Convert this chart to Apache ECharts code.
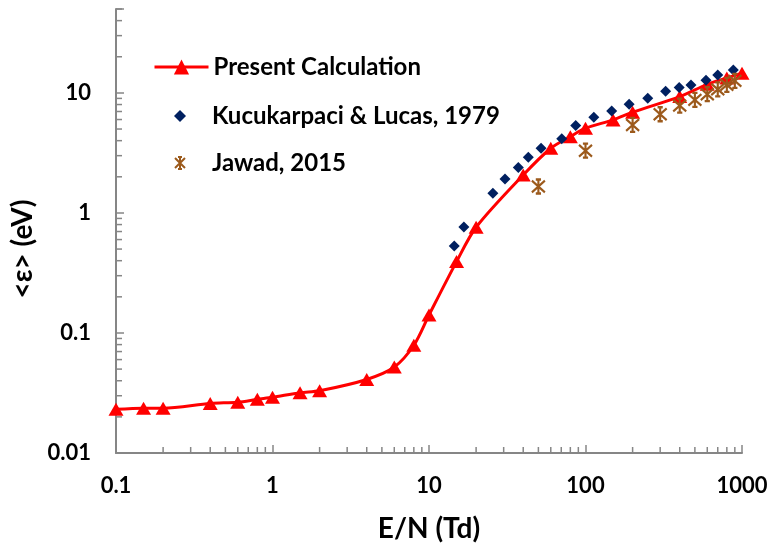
<!DOCTYPE html>
<html>
<head>
<meta charset="utf-8">
<script src="https://cdn.jsdelivr.net/npm/echarts@6/dist/echarts.min.js"></script>
<style>
html,body{margin:0;padding:0;background:#fff;}
#chart{width:774px;height:551px;}
</style>
</head>
<body>
<div id="chart"></div>
<script>
// ---- data ----
var presentX = [0.1, 0.15, 0.2, 0.4, 0.6, 0.8, 1, 1.5, 2, 4, 6, 8, 10, 15, 20, 40, 60, 80, 100, 150, 200, 400, 600, 800, 1000];
var presentY = [0.0231, 0.0236, 0.0236, 0.0259, 0.0265, 0.028, 0.0291, 0.0318, 0.033, 0.041, 0.052, 0.079, 0.141, 0.393, 0.76, 2.07, 3.46, 4.32, 5.08, 5.96, 6.91, 9.32, 11.8, 13.3, 14.6];

var kucX = [14.5, 16.7, 25.6, 30.6, 37.2, 43.1, 52, 70.5, 86.6, 113, 147, 190, 250, 325, 397, 472, 589, 700, 880];
var kucY = [0.531, 0.764, 1.46, 1.92, 2.39, 2.91, 3.46, 4.14, 5.36, 6.27, 7.08, 8.05, 9.03, 10.3, 11.07, 11.66, 12.76, 14.1, 15.5];

var jawX = [50, 100, 200, 300, 400, 500, 600, 700, 800, 900];
var jawY = [1.66, 3.30, 5.41, 6.64, 7.84, 8.75, 9.75, 10.7, 11.66, 12.6];

var xTickLabels = ['0.1', '1', '10', '100', '1000'];
var yTickLabels = ['0.01', '0.1', '1', '10'];

var seriesNames = ['Present Calculation', 'Kucukarpaci & Lucas, 1979', 'Jawad, 2015'];
var xTitle = 'E/N (Td)';
var yTitle = '<ε> (eV)';

// ---- helpers ----
function zip(a, b) { return a.map(function (v, i) { return [v, b[i]]; }); }
var X_MIN = 0.1, X_MAX = 1000, Y_MIN = 0.01, Y_MAX = 50;

// minor tick positions (axis decoration: 2..9 x each decade)
var minorTicks = [];
[0.1, 1, 10, 100].forEach(function (d) {
  for (var m = 2; m <= 9; m++) minorTicks.push([d * m, Y_MIN, 0]);
});
[0.01, 0.1, 1, 10].forEach(function (d) {
  for (var m = 2; m <= 9; m++) { if (d * m <= Y_MAX + 1e-9) minorTicks.push([X_MIN, d * m, 1]); }
});

function labelFor(labels, base, value) {
  var l = Math.log10(value);
  var r = Math.round(l);
  if (Math.abs(l - r) > 1e-6) return '';
  var idx = r - base;
  return labels[idx] !== undefined ? labels[idx] : '';
}

var FONT = 'Lato';
var AXIS_COLOR = '#868686';
var RED = '#FF0000';
var NAVY = '#002060';
var BROWN = '#9C5A1C';
var STAR = 'path://M0,1L10,11M10,1L0,11M5,0L5,12M3,0L7,0M3,12L7,12';

var legendText = { fontFamily: FONT, fontSize: 24, fontWeight: 'bold', color: '#000', lineHeight: 24 };

var chart = echarts.init(document.getElementById('chart'), null, { renderer: 'canvas' });
chart.setOption({
  animation: false,
  backgroundColor: '#ffffff',
  textStyle: { fontFamily: FONT },
  grid: { left: 116, right: 32, top: 9, bottom: 98, containLabel: false },
  legend: [
    {
      orient: 'vertical',
      left: 148,
      top: 50,
      itemWidth: 54,
      itemHeight: 19,
      data: [seriesNames[0]],
      lineStyle: { width: 3 },
      textStyle: legendText
    },
    {
      orient: 'vertical',
      left: 169,
      top: 99,
      itemWidth: 12,
      itemHeight: 12,
      itemGap: 23,
      data: [seriesNames[1], seriesNames[2]],
      textStyle: Object.assign({}, legendText, { padding: [0, 0, 0, 21] })
    }
  ],
  xAxis: {
    type: 'log',
    logBase: 10,
    min: X_MIN,
    max: X_MAX,
    name: xTitle,
    nameLocation: 'middle',
    nameGap: 62,
    nameTextStyle: { fontFamily: FONT, fontSize: 28, fontWeight: 'bold', color: '#000' },
    axisLine: { show: true, lineStyle: { color: AXIS_COLOR, width: 2 } },
    axisTick: { show: true, inside: true, length: 8, lineStyle: { color: AXIS_COLOR, width: 1.5 } },
    axisLabel: {
      margin: 22,
      fontFamily: FONT, fontSize: 22, fontWeight: 'bold', color: '#000',
      formatter: function (v) { return labelFor(xTickLabels, -1, v); }
    },
    splitLine: { show: false },
    minorTick: { show: false }
  },
  yAxis: {
    type: 'log',
    logBase: 10,
    min: Y_MIN,
    max: Y_MAX,
    name: yTitle,
    nameLocation: 'middle',
    nameGap: 77,
    nameTextStyle: { fontFamily: FONT, fontSize: 28, fontWeight: 'bold', color: '#000', padding: [0, 36, 0, 0] },
    axisLine: { show: true, lineStyle: { color: AXIS_COLOR, width: 2 } },
    axisTick: { show: true, inside: true, length: 8, lineStyle: { color: AXIS_COLOR, width: 1.5 } },
    axisLabel: {
      margin: 25,
      fontFamily: FONT, fontSize: 22, fontWeight: 'bold', color: '#000',
      formatter: function (v) { return labelFor(yTickLabels, -2, v); }
    },
    splitLine: { show: false },
    minorTick: { show: false }
  },
  series: [
    {
      name: 'minorTicks',
      type: 'custom',
      silent: true,
      clip: false,
      z: 1,
      data: minorTicks,
      renderItem: function (params, api) {
        var p = api.coord([api.value(0), api.value(1)]);
        var isY = api.value(2) === 1;
        return {
          type: 'line',
          shape: isY ? { x1: p[0], y1: p[1], x2: p[0] + 6, y2: p[1] } : { x1: p[0], y1: p[1], x2: p[0], y2: p[1] - 6 },
          style: { stroke: AXIS_COLOR, lineWidth: 1.5 }
        };
      }
    },
    {
      name: seriesNames[0],
      type: 'line',
      data: zip(presentX, presentY),
      smooth: 0.3,
      symbol: 'triangle',
      symbolSize: [15, 13],
      itemStyle: { color: RED },
      lineStyle: { color: RED, width: 3 },
      z: 3
    },
    {
      name: seriesNames[1],
      type: 'scatter',
      data: zip(kucX, kucY),
      symbol: 'diamond',
      symbolSize: 11,
      itemStyle: { color: NAVY, opacity: 1 },
      z: 4
    },
    {
      name: seriesNames[2],
      type: 'scatter',
      data: zip(jawX, jawY),
      symbol: STAR,
      symbolSize: [13, 14],
      itemStyle: { color: BROWN, borderColor: BROWN, borderWidth: 2.2, opacity: 1 },
      z: 5
    }
  ]
});
</script>
</body>
</html>
